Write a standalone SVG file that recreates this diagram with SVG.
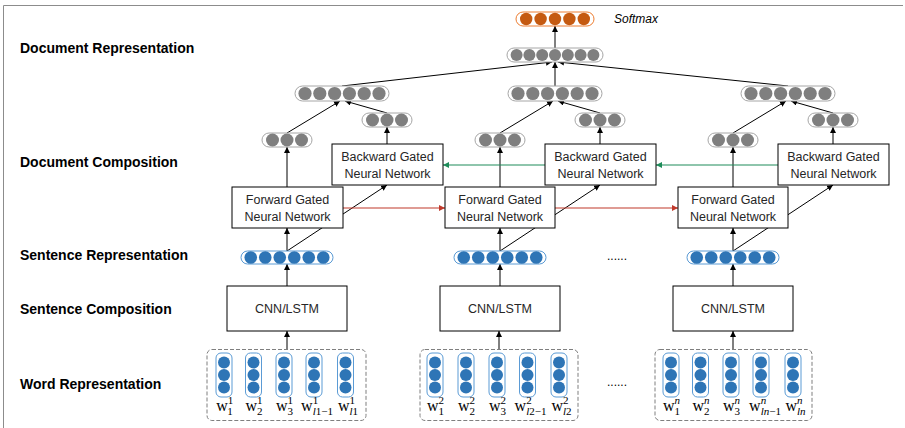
<svg xmlns="http://www.w3.org/2000/svg" xmlns:xlink="http://www.w3.org/1999/xlink" width="905" height="428" viewBox="0 0 905 428">
<style>
.lbl{font-family:"Liberation Sans",Arial,sans-serif;font-weight:bold;font-size:14px;fill:#000}
.bx{fill:#fff;stroke:#000;stroke-width:1}
.bt{font-family:"Liberation Sans",Arial,sans-serif;font-size:12.5px;fill:#262626;text-anchor:middle}
.ln{stroke:#000;stroke-width:1;fill:none;marker-end:url(#ah)}
.red{stroke:#C0392B;stroke-width:1.2;fill:none;marker-end:url(#ahr)}
.grn{stroke:#1E8C5A;stroke-width:1.2;fill:none;marker-end:url(#ahg)}
.gc{fill:#7F7F7F}
.gr{fill:#fff;stroke:#A6A6A6;stroke-width:1}
.bc{fill:#2E75B6}
.br{fill:#fff;stroke:#5B9BD5;stroke-width:1}
.oc{fill:#C55A11}
.orr{fill:#fff;stroke:#ED7D31;stroke-width:1}
.dash{fill:none;stroke:#7F7F7F;stroke-width:1;stroke-dasharray:4 2}
.w{font-family:"Liberation Serif","DejaVu Serif",serif;font-size:16px;fill:#000;text-anchor:middle}
.s{font-size:11px}
.i{font-style:italic}
.dots{font-family:"Liberation Sans",Arial,sans-serif;font-size:12px;fill:#000}
</style>
<defs>
<marker id="ah" markerUnits="userSpaceOnUse" markerWidth="7" markerHeight="7" refX="6" refY="3" orient="auto"><path d="M0,0 L6,3 L0,6 z" fill="#000"/></marker>
<marker id="ahr" markerUnits="userSpaceOnUse" markerWidth="7" markerHeight="7" refX="6" refY="3" orient="auto"><path d="M0,0 L6,3 L0,6 z" fill="#C0392B"/></marker>
<marker id="ahg" markerUnits="userSpaceOnUse" markerWidth="7" markerHeight="7" refX="6" refY="3" orient="auto"><path d="M0,0 L6,3 L0,6 z" fill="#1E8C5A"/></marker>
<g id="v7">
<rect class="gr" x="-48" y="-7" width="96" height="14" rx="7"/>
<circle class="gc" cx="-38.4" cy="0" r="6"/><circle class="gc" cx="-25.6" cy="0" r="6"/><circle class="gc" cx="-12.8" cy="0" r="6"/><circle class="gc" cx="0" cy="0" r="6"/><circle class="gc" cx="12.8" cy="0" r="6"/><circle class="gc" cx="25.6" cy="0" r="6"/><circle class="gc" cx="38.4" cy="0" r="6"/>
</g>
<g id="v6">
<rect class="gr" x="-47" y="-7.5" width="94" height="15" rx="7.5"/>
<circle class="gc" cx="-37" cy="0" r="6.6"/><circle class="gc" cx="-22.2" cy="0" r="6.6"/><circle class="gc" cx="-7.4" cy="0" r="6.6"/><circle class="gc" cx="7.4" cy="0" r="6.6"/><circle class="gc" cx="22.2" cy="0" r="6.6"/><circle class="gc" cx="37" cy="0" r="6.6"/>
</g>
<g id="v3">
<rect class="gr" x="-25" y="-7" width="50" height="14" rx="7"/>
<circle class="gc" cx="-14.5" cy="0" r="6.5"/><circle class="gc" cx="0" cy="0" r="6.5"/><circle class="gc" cx="14.5" cy="0" r="6.5"/>
</g>
<g id="vb">
<rect class="br" x="-46" y="-6.5" width="92" height="13" rx="6.5"/>
<circle class="bc" cx="-36.25" cy="0" r="6.3"/><circle class="bc" cx="-21.75" cy="0" r="6.3"/><circle class="bc" cx="-7.25" cy="0" r="6.3"/><circle class="bc" cx="7.25" cy="0" r="6.3"/><circle class="bc" cx="21.75" cy="0" r="6.3"/><circle class="bc" cx="36.25" cy="0" r="6.3"/>
</g>
<g id="col">
<rect class="br" x="-8" y="-22" width="16" height="44" rx="5"/>
<circle class="bc" cx="0" cy="-12.5" r="6"/><circle class="bc" cx="0" cy="0" r="6"/><circle class="bc" cx="0" cy="12.5" r="6"/>
</g>
</defs>
<rect width="905" height="428" fill="#fff"/>
<path d="M903,5.5 H3.5 V428" fill="none" stroke="#8C8C8C" stroke-width="1"/>

<g id="labels">
<text class="lbl" x="20" y="53">Document Representation</text>
<text class="lbl" x="20" y="167">Document Composition</text>
<text class="lbl" x="20" y="260">Sentence Representation</text>
<text class="lbl" x="20" y="314">Sentence Composition</text>
<text class="lbl" x="20" y="389">Word Representation</text>
</g>

<g id="connectors">
<!-- group 1 -->
<line class="ln" x1="287" y1="349" x2="287" y2="331"/>
<line class="ln" x1="287" y1="286" x2="287" y2="264"/>
<line class="ln" x1="287" y1="251" x2="287" y2="228"/>
<line class="ln" x1="287" y1="251" x2="387" y2="185"/>
<line class="ln" x1="287" y1="187" x2="287" y2="147"/>
<line class="ln" x1="387" y1="144" x2="387" y2="127"/>
<line class="ln" x1="287" y1="133" x2="340" y2="101"/>
<line class="ln" x1="387" y1="113" x2="345" y2="101"/>
<line class="ln" x1="342" y1="86" x2="552" y2="62"/>
<!-- group 2 -->
<line class="ln" x1="499" y1="349" x2="499" y2="331"/>
<line class="ln" x1="500" y1="286" x2="500" y2="264"/>
<line class="ln" x1="500" y1="251" x2="500" y2="228"/>
<line class="ln" x1="500" y1="251" x2="600" y2="185"/>
<line class="ln" x1="500" y1="187" x2="500" y2="147"/>
<line class="ln" x1="600" y1="144" x2="600" y2="127"/>
<line class="ln" x1="500" y1="133" x2="553" y2="101"/>
<line class="ln" x1="600" y1="113" x2="558" y2="101"/>
<line class="ln" x1="555" y1="86" x2="555" y2="62"/>
<!-- group 3 -->
<line class="ln" x1="733" y1="349" x2="733" y2="331"/>
<line class="ln" x1="733" y1="286" x2="733" y2="264"/>
<line class="ln" x1="733" y1="251" x2="733" y2="228"/>
<line class="ln" x1="733" y1="251" x2="833" y2="185"/>
<line class="ln" x1="733" y1="187" x2="733" y2="147"/>
<line class="ln" x1="833" y1="144" x2="833" y2="127"/>
<line class="ln" x1="733" y1="133" x2="786" y2="101"/>
<line class="ln" x1="833" y1="113" x2="791" y2="101"/>
<line class="ln" x1="788" y1="86" x2="558" y2="62"/>
<!-- top -->
<line class="ln" x1="555" y1="48" x2="555" y2="26"/>
<!-- recurrent -->
<line class="red" x1="343" y1="208" x2="445" y2="208"/>
<line class="red" x1="555" y1="208" x2="678" y2="208"/>
<line class="grn" x1="778" y1="165" x2="656" y2="165"/>
<line class="grn" x1="545" y1="165" x2="443" y2="165"/>
</g>

<g id="softmax">
<rect class="orr" x="516" y="12" width="78" height="14" rx="7"/>
<circle class="oc" cx="526.2" cy="19" r="6.2"/><circle class="oc" cx="540.6" cy="19" r="6.2"/><circle class="oc" cx="555" cy="19" r="6.2"/><circle class="oc" cx="569.4" cy="19" r="6.2"/><circle class="oc" cx="583.8" cy="19" r="6.2"/>
<text x="614" y="23" font-family="Liberation Sans, Arial, sans-serif" font-style="italic" font-size="12" fill="#000">Softmax</text>
</g>

<g id="doc-vector"><use xlink:href="#v7" x="555" y="55"/></g>

<g id="group1">
<use xlink:href="#v6" x="342" y="93.5"/>
<use xlink:href="#v3" x="287" y="140"/>
<use xlink:href="#v3" x="387" y="120"/>
<g id="bwd1"><rect class="bx" x="332" y="144" width="111" height="41"/><text class="bt" x="387.5" y="161">Backward Gated</text><text class="bt" x="387.5" y="178">Neural Network</text></g>
<g id="fwd1"><rect class="bx" x="232" y="187" width="111" height="41"/><text class="bt" x="287.5" y="204">Forward Gated</text><text class="bt" x="287.5" y="221">Neural Network</text></g>
<use xlink:href="#vb" x="287" y="257.5"/>
<g id="cnn1"><rect class="bx" x="227" y="286" width="120" height="45"/><text class="bt" x="287" y="313">CNN/LSTM</text></g>
<g id="words1">
<rect class="dash" x="207" y="349.5" width="159" height="71" rx="5"/>
<use xlink:href="#col" x="224" y="375"/><use xlink:href="#col" x="253.5" y="375"/><use xlink:href="#col" x="284" y="375"/><use xlink:href="#col" x="314" y="375"/><use xlink:href="#col" x="345.5" y="375"/>
<text class="w" x="224.5" y="411">w<tspan class="s" dy="-7">1</tspan><tspan class="s" dx="-5.5" dy="11">1</tspan></text>
<text class="w" x="254" y="411">w<tspan class="s" dy="-7">1</tspan><tspan class="s" dx="-5.5" dy="11">2</tspan></text>
<text class="w" x="284.5" y="411">w<tspan class="s" dy="-7">1</tspan><tspan class="s" dx="-5.5" dy="11">3</tspan></text>
<text class="w" x="317" y="411">w<tspan class="s" dy="-7">1</tspan><tspan class="s" dx="-5.5" dy="11"><tspan class="i">l</tspan>1−1</tspan></text>
<text class="w" x="348" y="411">w<tspan class="s" dy="-7">1</tspan><tspan class="s" dx="-5.5" dy="11"><tspan class="i">l</tspan>1</tspan></text>
</g>
</g>

<g id="group2">
<use xlink:href="#v6" x="555" y="93.5"/>
<use xlink:href="#v3" x="500" y="140"/>
<use xlink:href="#v3" x="600" y="120"/>
<g id="bwd2"><rect class="bx" x="545" y="144" width="111" height="41"/><text class="bt" x="600.5" y="161">Backward Gated</text><text class="bt" x="600.5" y="178">Neural Network</text></g>
<g id="fwd2"><rect class="bx" x="445" y="187" width="110" height="41"/><text class="bt" x="500" y="204">Forward Gated</text><text class="bt" x="500" y="221">Neural Network</text></g>
<use xlink:href="#vb" x="500" y="257.5"/>
<g id="cnn2"><rect class="bx" x="440" y="286" width="120" height="45"/><text class="bt" x="500" y="313">CNN/LSTM</text></g>
<g id="words2">
<rect class="dash" x="420" y="349.5" width="158" height="71" rx="5"/>
<use xlink:href="#col" x="435" y="375"/><use xlink:href="#col" x="466" y="375"/><use xlink:href="#col" x="497" y="375"/><use xlink:href="#col" x="527.5" y="375"/><use xlink:href="#col" x="559" y="375"/>
<text class="w" x="435.5" y="411">w<tspan class="s" dy="-7">2</tspan><tspan class="s" dx="-5.5" dy="11">1</tspan></text>
<text class="w" x="466.5" y="411">w<tspan class="s" dy="-7">2</tspan><tspan class="s" dx="-5.5" dy="11">2</tspan></text>
<text class="w" x="497.5" y="411">w<tspan class="s" dy="-7">2</tspan><tspan class="s" dx="-5.5" dy="11">3</tspan></text>
<text class="w" x="530.5" y="411">w<tspan class="s" dy="-7">2</tspan><tspan class="s" dx="-5.5" dy="11"><tspan class="i">l</tspan>2−1</tspan></text>
<text class="w" x="561.5" y="411">w<tspan class="s" dy="-7">2</tspan><tspan class="s" dx="-5.5" dy="11"><tspan class="i">l</tspan>2</tspan></text>
</g>
</g>

<g id="group3">
<use xlink:href="#v6" x="788" y="93.5"/>
<use xlink:href="#v3" x="733" y="140"/>
<use xlink:href="#v3" x="833" y="120"/>
<g id="bwd3"><rect class="bx" x="778" y="144" width="111" height="41"/><text class="bt" x="833.5" y="161">Backward Gated</text><text class="bt" x="833.5" y="178">Neural Network</text></g>
<g id="fwd3"><rect class="bx" x="678" y="187" width="110" height="41"/><text class="bt" x="733" y="204">Forward Gated</text><text class="bt" x="733" y="221">Neural Network</text></g>
<use xlink:href="#vb" x="733" y="257.5"/>
<g id="cnn3"><rect class="bx" x="673" y="286" width="120" height="45"/><text class="bt" x="733" y="313">CNN/LSTM</text></g>
<g id="words3">
<rect class="dash" x="655" y="349.5" width="157" height="71" rx="5"/>
<use xlink:href="#col" x="671" y="375"/><use xlink:href="#col" x="700.5" y="375"/><use xlink:href="#col" x="731" y="375"/><use xlink:href="#col" x="761" y="375"/><use xlink:href="#col" x="793" y="375"/>
<text class="w" x="671.5" y="411">w<tspan class="s i" dy="-7">n</tspan><tspan class="s" dx="-5.5" dy="11">1</tspan></text>
<text class="w" x="701" y="411">w<tspan class="s i" dy="-7">n</tspan><tspan class="s" dx="-5.5" dy="11">2</tspan></text>
<text class="w" x="731.5" y="411">w<tspan class="s i" dy="-7">n</tspan><tspan class="s" dx="-5.5" dy="11">3</tspan></text>
<text class="w" x="765" y="411">w<tspan class="s i" dy="-7">n</tspan><tspan class="s" dx="-5.5" dy="11"><tspan class="i">ln</tspan>−1</tspan></text>
<text class="w" x="795.5" y="411">w<tspan class="s i" dy="-7">n</tspan><tspan class="s" dx="-5.5" dy="11"><tspan class="i">ln</tspan></tspan></text>
</g>
</g>

<g id="ellipses">
<text class="dots" x="607" y="260">......</text>
<text class="dots" x="607" y="386">......</text>
</g>
</svg>
